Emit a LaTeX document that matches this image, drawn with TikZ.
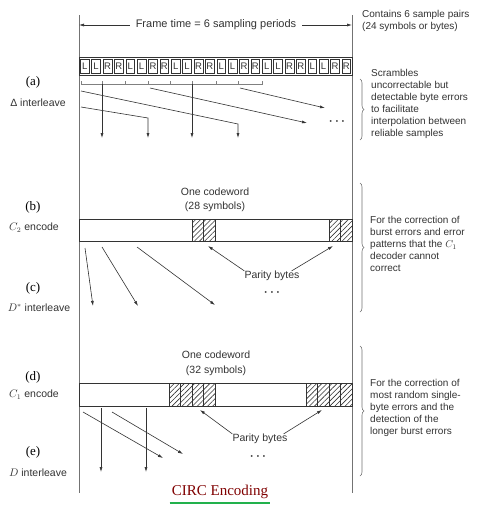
\documentclass[tikz,border=0pt]{standalone}
\usepackage{fontspec}
\setmainfont{Liberation Sans}
\newfontfamily\timesfont{Liberation Serif}
\usepackage{tikz}
\usetikzlibrary{arrows.meta,calc,patterns.meta,decorations.pathreplacing}
\usepackage{xcolor}
\definecolor{scan}{gray}{0.2}
\definecolor{circred}{RGB}{128,0,0}
\definecolor{circgreen}{RGB}{34,177,76}

\begin{document}
\begin{tikzpicture}[x=1pt, y=-1pt,
  every node/.style={font=\fontsize{10}{12}\selectfont, text=scan, inner sep=0pt},
  thinline/.style={draw=scan, line width=0.6pt},
  frameline/.style={draw=black!55, line width=0.7pt},
  arr/.style={thinline, -{Latex[length=5pt, width=3pt]}},
  side/.style={align=left, anchor=west},
  partlabel/.style={font=\timesfont\fontsize{13}{13}\selectfont, text=black},
  stagelabel/.style={font=\fontsize{10.5}{11}\selectfont},
  hatch/.style={thinline, pattern={Lines[angle=45, distance=3.6pt, line width=0.6pt]}, pattern color=scan},
  dotsnode/.style={font=\fontsize{13}{13}\selectfont\boldmath},
  sidebrace/.style={draw=black!55, line width=0.6pt, decorate, decoration={brace, amplitude=4pt}}]
  \fill[white] (0,0) rectangle (480,517);
  \useasboundingbox (0,0) rectangle (480,517);
  \def\cw{11.375}
  % frame
  \draw[frameline] (79,15) -- (79,493);
  \draw[frameline] (352,15) -- (352,493);
  \node[font=\fontsize{11}{11}\selectfont, fill=white, inner xsep=6pt] (frame) at (216,25) {Frame time = 6 sampling periods};
  \coordinate (fl) at (79,25);
  \coordinate (fr) at (352,25);
  \draw[arr] (frame) -- (fl);
  \draw[arr] (frame) -- (fr);
  \node[side] (pairs) at (362,21) {Contains 6 sample pairs\\(24 symbols or bytes)};
  % (a) sample row
  \draw[thinline, fill=white] (79,57) rectangle (352,75);
  \foreach \s [count=\i from 0] in {L,L,R,R,L,L,R,R,L,L,R,R,L,L,R,R,L,L,R,R,L,L,R,R} {
    \node[draw=scan, line width=0.5pt, minimum width=8.8pt, minimum height=14pt,
      font=\fontsize{9.5}{9.5}\selectfont] (s\i) at ({79+\cw*(\i+0.5)},66) {\s};
  }
  \draw[thinline, draw=black!50] (81,81) -- (81,84) -- (262,84) -- (262,81);
  \foreach \x in {102,125,148,170,192,216,238} \draw[thinline, draw=black!50] (\x,84) -- (\x,81);
  % delta interleave
  \draw[arr] (102,84) -- (102,138);
  \draw[arr] (192,84) -- (192,138);
  \draw[arr] (81,107) -- (148,118) -- (148,138);
  \draw[arr] (81,91) -- (238,124) -- (238,138);
  \draw[arr] (150,88) -- (307,123);
  \draw[arr] (240,88) -- (325,108);
  \node[dotsnode] (dotsa) at (337,122) {$\cdots$};
  \draw[sidebrace] (360,79) -- (360,140);
  \node[side] (scram) at (371,104) {Scrambles\\uncorrectable but\\detectable byte errors\\to facilitate\\interpolation between\\reliable samples};
  % (b) C2 codeword
  \node[align=center, font=\fontsize{10.5}{14}\selectfont] (cw28) at (215,200) {One codeword\\(28 symbols)};
  \draw[thinline, fill=white] (79,219) rectangle (352,241);
  \foreach \x in {192,203.75,329,340.5} \draw[hatch] (\x,219) rectangle ++(11.5,22);
  \node[font=\fontsize{10.5}{11}\selectfont] (par28) at (272,276) {Parity bytes};
  \coordinate (hat28a) at (208,246);
  \coordinate (hat28b) at (333,246);
  \draw[arr] (par28.north west) -- (hat28a);
  \draw[arr] ([xshift=-8pt]par28.north east) -- (hat28b);
  % D* interleave
  \draw[arr] (85,248) -- (93,306);
  \draw[arr] (102,247) -- (138,306);
  \draw[arr] (137,247) -- (215,305);
  \node[dotsnode] (dotsc) at (272,293) {$\cdots$};
  \draw[sidebrace] (360,183) -- (360,312);
  \node[side] (c2txt) at (370,244) {For the correction of\\burst errors and error\\patterns that the $C_1$\\decoder cannot\\correct};
  % (d) C1 codeword
  \node[align=center, font=\fontsize{10.5}{15}\selectfont] (cw32) at (216,363) {One codeword\\(32 symbols)};
  \draw[thinline, fill=white] (79,383) rectangle (352,406);
  \foreach \k in {0,1,2,3} {
    \draw[hatch] ({169+11.5*\k},383) rectangle ++(11.5,23);
    \draw[hatch] ({306+11.5*\k},383) rectangle ++(11.5,23);
  }
  \node[font=\fontsize{10.5}{11}\selectfont] (par32) at (260,439) {Parity bytes};
  \coordinate (hat32a) at (200,410);
  \coordinate (hat32b) at (322,410);
  \draw[arr] (par32.north west) -- (hat32a);
  \draw[arr] ([xshift=-4pt]par32.north east) -- (hat32b);
  % D interleave
  \draw[arr] (101,408) -- (101,472);
  \draw[arr] (146,408) -- (146,472);
  \draw[arr] (83,412) -- (163,458);
  \draw[arr] (112,412) -- (183,454);
  \node[dotsnode] (dotse) at (258,457) {$\cdots$};
  \draw[sidebrace] (360,346) -- (360,476);
  \node[side] (c1txt) at (370,408) {For the correction of\\most random single-\\byte errors and the\\detection of the\\longer burst errors};
  % stage labels
  \node[partlabel] (la) at (33,82) {(a)};
  \node[stagelabel] (lda) at (38,103) {Δ interleave};
  \node[partlabel] (lb) at (33,207) {(b)};
  \node[stagelabel] (lc2) at (34,228) {$C_2$ encode};
  \node[partlabel] (lc) at (33,288) {(c)};
  \node[stagelabel] (ldx) at (39,308) {$D^*$ interleave};
  \node[partlabel] (ld) at (33,377) {(d)};
  \node[stagelabel] (lc1) at (34,395) {$C_1$ encode};
  \node[partlabel] (le) at (33,452) {(e)};
  \node[stagelabel] (lde) at (38,473) {$D$ interleave};
  % caption
  \node[font=\timesfont\fontsize{15}{15}\selectfont, text=circred] (circ) at (220,492) {CIRC Encoding};
  \draw[circgreen, line width=2.2pt] ($(circ.south west)+(-2,4)$) -- ($(circ.south east)+(2,4)$);
\end{tikzpicture}
\end{document}
